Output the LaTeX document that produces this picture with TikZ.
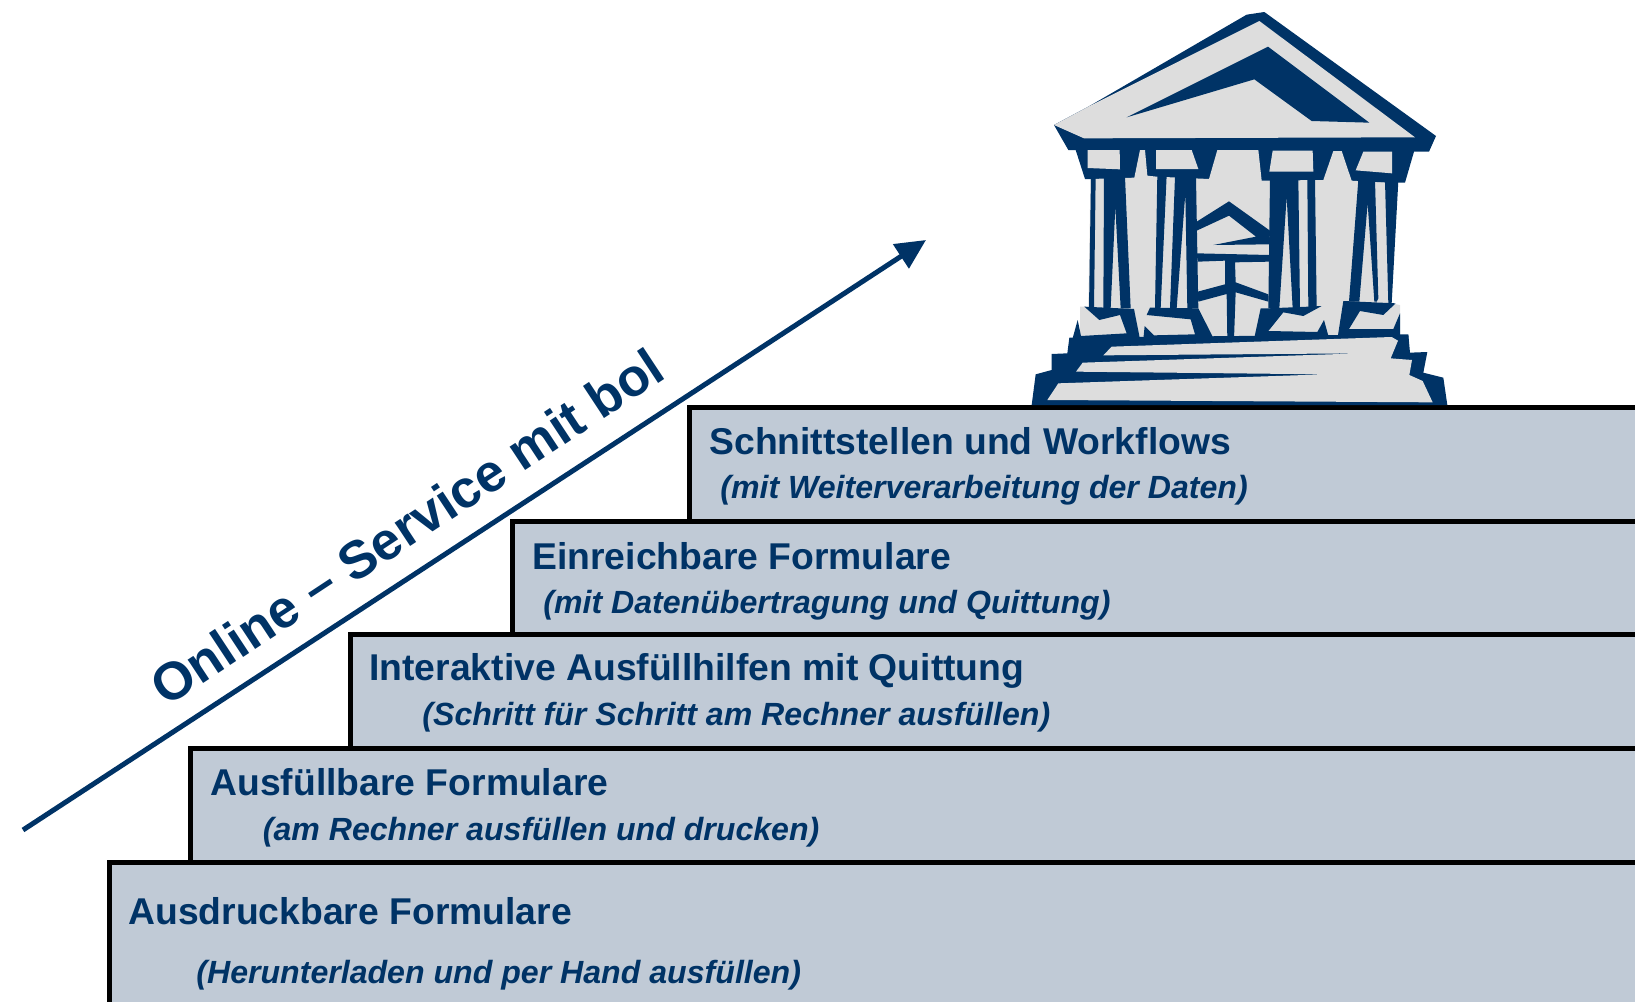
\documentclass[tikz,border=0pt]{standalone}
\usepackage{fontspec}
\setmainfont{Liberation Sans}
\usetikzlibrary{arrows.meta}
\definecolor{navy}{RGB}{0,51,102}
\definecolor{stepfill}{RGB}{192,202,214}
\definecolor{templegray}{RGB}{221,221,221}
\tikzset{
 stepbox/.style={draw=black,line width=2.5pt,fill=stepfill},
 headtext/.style={anchor=base west,inner sep=0pt,text=navy,font=\fontsize{18.65}{23}\selectfont\bfseries},
 subtext/.style={anchor=base west,inner sep=0pt,text=navy,font=\fontsize{16.05}{20}\selectfont\bfseries\itshape},
 dark/.style={fill=navy},
 light/.style={fill=templegray}
}
\begin{document}
\begin{tikzpicture}[x=0.5pt,y=-0.5pt]
\useasboundingbox (0,0) rectangle (1635,1002);
\clip (0,0) rectangle (1635,1002);
% steps
\path[stepbox] (689.5,407.5) rectangle (1700,1100);
\path[stepbox] (512.5,521.5) rectangle (1700,1100);
\path[stepbox] (350.5,634) rectangle (1700,1100);
\path[stepbox] (190.5,748.5) rectangle (1700,1100);
\path[stepbox] (109.5,862) rectangle (1700,1100);
% texts
\node[headtext] (h5) at (709,454) {Schnittstellen und Workflows};
\node[subtext] (s5) at (720,498) {(mit Weiterverarbeitung der Daten)};
\node[headtext] (h4) at (532,569) {Einreichbare Formulare};
\node[subtext] (s4) at (543,613) {(mit Datenübertragung und Quittung)};
\node[headtext] (h3) at (369,680) {Interaktive Ausfüllhilfen mit Quittung};
\node[subtext] (s3) at (422,725) {(Schritt für Schritt am Rechner ausfüllen)};
\node[headtext] (h2) at (210,795) {Ausfüllbare Formulare};
\node[subtext] (s2) at (262.5,840) {(am Rechner ausfüllen und drucken)};
\node[headtext] (h1) at (128,924) {Ausdruckbare Formulare};
\node[subtext] (s1) at (196,983) {(Herunterladen und per Hand ausfüllen)};
% arrow
\coordinate (arrowstart) at (23,830);
\coordinate (arrowend) at (926,240);
\draw[navy,line width=2.5pt,-{Triangle[length=15pt,width=14pt]}] (arrowstart) -- (arrowend);
\node[anchor=base west,inner sep=0pt,text=navy,rotate=33.4,font=\fontsize{26.5}{31}\selectfont\bfseries] (slogan) at (166,708) {Online – Service mit bol};
% temple
\begin{scope}[shift={(1030,0)},scale=0.33333]
% gray body
\fill[light] (183,450)--(1105,450)--(1085,910)--(1110,915)--(1110,1030)--(150,1030)--(150,920)--(175,920)--cycle;
% roof
\fill[dark] (72,375)--(175,320)--(650,44)--(703,36)--(1218,408)--(1197,455)--(1152,455)--(1125,548)--(1105,548)--(183,537)--(165,537)--(137,450)--(115,450)--cycle;
\fill[light] (72,375)--(175,320)--(688,63)--(1155,412)--(162,415)--cycle;
\fill[dark] (290,352)--(714,140)--(1018,368)--(845,363)--(673,238)--cycle;
% gaps and windows under entablature
\fill[light] (183,560)--(1100,560)--(1105,548)--(1060,548)--(965,542)--(935,453)--(910,453)--(880,540)--(695,542)--(685,450)--(562,450)--(537,537)--(380,530)--(352,527)--(345,450)--(330,450)--(313,533)--(183,537)--cycle;
\fill[light] (173,450)--(269,450)--(270,508)--(173,504)--cycle;
\fill[light] (378,450)--(485,450)--(505,507)--(378,507)--cycle;
\fill[light] (728,452)--(848,452)--(850,515)--(718,515)--cycle;
\fill[light] (1000,455)--(1086,455)--(1086,520)--(977,511)--cycle;
% columns
\fill[dark] (183,530)--(197,530)--(192,925)--(177,925)--cycle;
\fill[dark] (222,530)--(285,530)--(302,925)--(272,925)--(256,620)--(242,925)--(220,925)--cycle;
\fill[dark] (382,525)--(410,525)--(392,925)--(375,925)--cycle;
\fill[dark] (435,530)--(498,532)--(505,925)--(472,925)--(466,580)--(440,925)--(420,925)--cycle;
\fill[dark] (720,535)--(805,535)--(810,925)--(788,925)--(770,590)--(748,925)--(715,925)--cycle;
\fill[dark] (832,535)--(855,535)--(860,925)--(835,925)--cycle;
\fill[dark] (985,540)--(1035,540)--(1045,895)--(1040,905)--(1033,905)--(1013,610)--(988,905)--(957,905)--cycle;
\fill[dark] (1065,543)--(1105,543)--(1085,910)--(1075,910)--cycle;
% door
\fill[dark] (500,665)--(597,604)--(720,692)--(718,733)--(550,735)--(678,710)--(597,647)--(500,692)--cycle;
\fill[dark] (500,760)--(718,765)--(718,785)--(615,787)--(617,847)--(715,883)--(715,905)--(617,877)--(612,1018)--(592,1018)--(590,882)--(505,905)--(503,875)--(585,853)--(585,782)--(503,785)--cycle;
% lower mass
\fill[dark] (5,1215)--(17,1123)--(65,1110)--(65,1062)--(112,1060)--(118,1013)--(1135,1003)--(1140,1058)--(1192,1056)--(1180,1118)--(1240,1133)--(1252,1215)--cycle;
% pads
\fill[dark] (163,920)--(312,927)--(330,1018)--(127,1018)--(143,960)--(153,1008)--(290,1000)--(270,945)--(208,960)--cycle;
\fill[dark] (360,923)--(505,925)--(552,1018)--(340,1018)--(344,978)--(372,1006)--(495,1003)--(482,958)--(350,945)--cycle;
\fill[dark] (692,925)--(715,925)--(835,920)--(875,918)--(820,948)--(760,937)--(715,993)--(862,996)--(882,960)--(898,1018)--(672,1018)--cycle;
\fill[dark] (940,903)--(1097,910)--(1060,945)--(990,933)--(957,987)--(1090,987)--(1110,940)--(1110,1005)--(1135,1005)--(1135,1020)--(922,1018)--cycle;
% steps of temple
\fill[light] (245,1040)--(1085,1011)--(1104,1022)--(1082,1075)--(1146,1080)--(1138,1125)--(1178,1143)--(1208,1207)--(52,1200)--(85,1150)--(885,1123)--(138,1115)--(158,1088)--(990,1060)--(220,1066)--cycle;
\end{scope}
\end{tikzpicture}
\end{document}
